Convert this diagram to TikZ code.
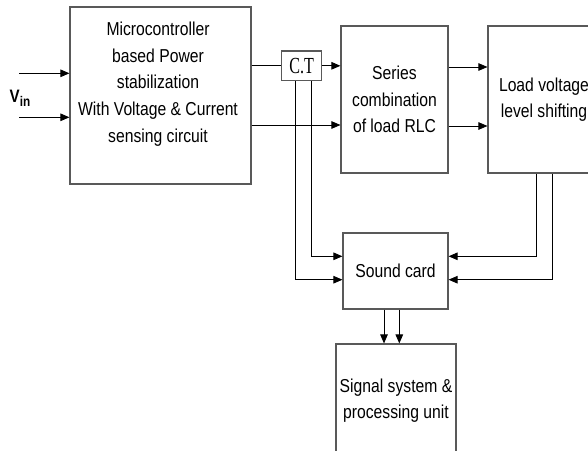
\documentclass[tikz,border=0pt]{standalone}
\usepackage{fontspec}
\setmainfont{Liberation Sans}[FakeStretch=0.84]
\newfontfamily\ctfont{Liberation Serif}[FakeStretch=0.7]
\usetikzlibrary{arrows.meta}
\begin{document}
\begin{tikzpicture}[x=1pt,y=-1pt,
  blk/.style={draw=black!65,line width=1.1pt,fill=none,inner sep=0pt,align=center,
    font=\fontsize{18.7}{26.6}\selectfont},
  lbl/.style={inner sep=0pt,align=center,font=\fontsize{18.7}{26.6}\selectfont},
  wire/.style={draw=black,line width=0.9pt},
  arr/.style={wire,-{Triangle[length=9pt,width=7.5pt]}}]
\useasboundingbox (0,0) rectangle (588,450);
\clip (0,0) rectangle (588,450);
% blocks
\node[blk,minimum width=181pt,minimum height=177pt] (main) at (160.5,95.5) {};
\node[lbl] (maintext) at (158,84) {Microcontroller\\based Power\\stabilization\\With Voltage \& Current\\sensing circuit};
\node[draw=black!65,line width=1.1pt,inner sep=0pt,minimum width=40pt,minimum height=29.7pt,
  font=\ctfont\fontsize{23}{23}\selectfont] (ct) at (301.7,65.8) {C.T};
\node[blk,minimum width=107pt,minimum height=147pt] (series) at (394.5,99.5) {Series\\combination\\of load RLC};
\node[blk,minimum width=112pt,minimum height=147pt] (load) at (544,99.5) {Load voltage\\level shifting};
\node[blk,minimum width=105pt,minimum height=76pt] (sound) at (395.5,271) {Sound card};
\node[blk,minimum width=120pt,minimum height=113.4pt] (signal) at (396,400.7) {Signal system \&\\processing unit};
\node[inner sep=0pt] (vin) at (20,98) {\fontsize{18}{18}\selectfont\bfseries V\raisebox{-4pt}{\fontsize{14}{14}\selectfont in}};
% inputs
\coordinate (in1) at (19,73.3);
\coordinate (in2) at (19,117.3);
\draw[arr] (in1) -- (in1 -| main.west);
\draw[arr] (in2) -- (in2 -| main.west);
% main -> CT -> series
\draw[wire] (main.east |- ct.west) -- (ct.west);
\draw[arr] (ct.east) -- (ct.east -| series.west);
\coordinate (low) at (251,125);
\draw[arr] (low -| main.east) -- (low -| series.west);
% series -> load
\coordinate (s1) at (447,67);
\coordinate (s2) at (447,126);
\draw[arr] (s1 -| series.east) -- (s1 -| load.west);
\draw[arr] (s2 -| series.east) -- (s2 -| load.west);
% CT -> sound card
\draw[arr] ([xshift=-6pt]ct.south) |- ([yshift=-8.7pt]sound.west);
\draw[arr] ([xshift=9.6pt]ct.south) |- ([yshift=14.7pt]sound.west);
% load -> sound card
\draw[arr] ([xshift=-8pt]load.south) |- ([yshift=14.7pt]sound.east);
\draw[arr] ([xshift=8.3pt]load.south) |- ([yshift=-8.7pt]sound.east);
% sound card -> signal unit
\draw[arr] ([xshift=-11.5pt]sound.south) -- ([xshift=-11.5pt]sound.south |- signal.north);
\draw[arr] ([xshift=3.8pt]sound.south) -- ([xshift=3.8pt]sound.south |- signal.north);
\end{tikzpicture}
\end{document}
